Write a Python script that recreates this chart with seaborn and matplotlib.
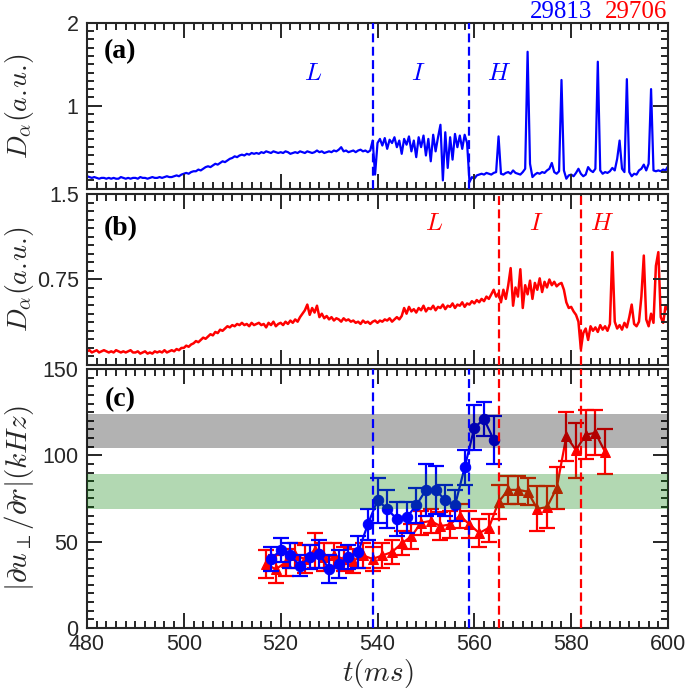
import numpy as np
import pandas as pd
import matplotlib
matplotlib.use("Agg")
import matplotlib.pyplot as plt
from matplotlib.ticker import AutoMinorLocator, FixedLocator
import seaborn as sns

# ---------------- data ----------------
# Panel (a): D_alpha, shot 29813, sampled every 0.5 ms from 480 to 600 ms
t_start, t_step = 480.0, 0.5
da_29813 = [
    0.15, 0.14, 0.13, 0.14, 0.13, 0.12, 0.13, 0.13, 0.12, 0.13,
    0.12, 0.13, 0.12, 0.12, 0.14, 0.13, 0.12, 0.13, 0.12, 0.13,
    0.13, 0.12, 0.14, 0.13, 0.13, 0.12, 0.13, 0.14, 0.13, 0.13,
    0.14, 0.13, 0.14, 0.15, 0.14, 0.14, 0.15, 0.16, 0.15, 0.17,
    0.18, 0.19, 0.18, 0.20, 0.21, 0.21, 0.23, 0.22, 0.24, 0.26,
    0.27, 0.26, 0.28, 0.30, 0.29, 0.31, 0.33, 0.32, 0.34, 0.36,
    0.37, 0.39, 0.38, 0.40, 0.41, 0.40, 0.42, 0.41, 0.43, 0.42,
    0.43, 0.42, 0.44, 0.43, 0.45, 0.44, 0.43, 0.45, 0.44, 0.43,
    0.44, 0.43, 0.45, 0.44, 0.42, 0.43, 0.44, 0.43, 0.45, 0.44,
    0.43, 0.45, 0.44, 0.43, 0.44, 0.46, 0.44, 0.45, 0.43, 0.44,
    0.45, 0.44, 0.46, 0.45, 0.47, 0.50, 0.45, 0.46, 0.44, 0.45,
    0.46, 0.44, 0.46, 0.47, 0.45, 0.46, 0.44, 0.46, 0.58, 0.17,
    0.55, 0.60, 0.52, 0.61, 0.48, 0.59, 0.55, 0.62, 0.50, 0.58,
    0.42, 0.60, 0.53, 0.63, 0.45, 0.58, 0.38, 0.62, 0.50, 0.64,
    0.40, 0.60, 0.33, 0.65, 0.45, 0.62, 0.77, 0.10, 0.68, 0.25,
    0.62, 0.35, 0.66, 0.50, 0.64, 0.48, 0.65, 0.55, 0.08, 0.14,
    0.12, 0.16, 0.17, 0.18, 0.17, 0.19, 0.18, 0.17, 0.19, 0.20,
    0.63, 0.18, 0.17, 0.19, 0.20, 0.18, 0.22, 0.19, 0.18, 0.17,
    0.20, 0.24, 1.65, 0.30, 0.14, 0.17, 0.19, 0.18, 0.20, 0.19,
    0.22, 0.24, 0.31, 0.20, 0.18, 0.21, 1.31, 0.22, 0.12, 0.16,
    0.17, 0.15, 0.19, 0.24, 0.18, 0.15, 0.17, 0.26, 0.22, 0.20,
    0.24, 1.53, 0.22, 0.18, 0.20, 0.19, 0.21, 0.25, 0.22, 0.36,
    0.58, 0.24, 0.20, 1.32, 0.20, 0.15, 0.18, 0.17, 0.22, 0.24,
    0.29, 0.22, 0.30, 1.20, 0.22, 0.21, 0.22, 0.21, 0.23, 0.22,
    0.27,
]

# Panel (b): D_alpha, shot 29706, same sampling
da_29706 = [
    0.12, 0.13, 0.11, 0.12, 0.13, 0.11, 0.12, 0.13, 0.12, 0.11,
    0.12, 0.11, 0.13, 0.12, 0.11, 0.12, 0.11, 0.12, 0.13, 0.11,
    0.11, 0.12, 0.10, 0.11, 0.12, 0.10, 0.11, 0.10, 0.12, 0.11,
    0.12, 0.11, 0.13, 0.11, 0.12, 0.13, 0.12, 0.14, 0.13, 0.15,
    0.15, 0.17, 0.16, 0.18, 0.19, 0.21, 0.20, 0.22, 0.24, 0.23,
    0.25, 0.27, 0.26, 0.29, 0.28, 0.31, 0.30, 0.32, 0.34, 0.33,
    0.35, 0.34, 0.36, 0.35, 0.37, 0.35, 0.36, 0.34, 0.37, 0.35,
    0.36, 0.37, 0.35, 0.36, 0.33, 0.37, 0.35, 0.38, 0.34, 0.36,
    0.37, 0.35, 0.38, 0.36, 0.39, 0.37, 0.40, 0.38, 0.42, 0.45,
    0.48, 0.53, 0.44, 0.50, 0.46, 0.52, 0.42, 0.45, 0.41, 0.43,
    0.40, 0.42, 0.39, 0.41, 0.40, 0.38, 0.41, 0.39, 0.40, 0.38,
    0.39, 0.37, 0.38, 0.36, 0.39, 0.37, 0.38, 0.36, 0.38, 0.39,
    0.37, 0.39, 0.38, 0.40, 0.39, 0.41, 0.38, 0.40, 0.42, 0.40,
    0.43, 0.50, 0.45, 0.51, 0.47, 0.49, 0.46, 0.50, 0.48, 0.52,
    0.47, 0.50, 0.49, 0.52, 0.48, 0.51, 0.50, 0.53, 0.49, 0.52,
    0.51, 0.54, 0.50, 0.53, 0.52, 0.55, 0.51, 0.54, 0.53, 0.56,
    0.54, 0.57, 0.55, 0.58, 0.56, 0.60, 0.58, 0.62, 0.66, 0.60,
    0.63, 0.55, 0.66, 0.58, 0.70, 0.85, 0.52, 0.68, 0.60, 0.84,
    0.50, 0.70, 0.62, 0.74, 0.58, 0.72, 0.66, 0.76, 0.64, 0.73,
    0.68, 0.75, 0.70, 0.73, 0.69, 0.71, 0.72, 0.66, 0.55, 0.50,
    0.51, 0.47, 0.44, 0.38, 0.14, 0.28, 0.32, 0.22, 0.34, 0.30,
    0.33, 0.29, 0.35, 0.31, 0.34, 0.30, 0.36, 0.99, 0.38, 0.32,
    0.35, 0.31, 0.37, 0.33, 0.42, 0.53, 0.36, 0.34, 0.38, 0.60,
    0.96, 0.40, 0.34, 0.45, 0.37, 0.87, 0.99, 0.42, 0.37, 0.52,
    0.48,
]

# Panel (c): shear rate with error bars
t_29813 = [518, 520, 522, 524, 526, 528, 530, 532, 534, 536, 538, 540,
           542, 544, 546, 548, 550, 552, 554, 556, 558, 560, 562, 564]
shear_29813 = [40, 45, 42, 36, 41, 43, 34, 37, 41, 44, 60, 74,
               69, 63, 64, 71, 80, 80, 74, 71, 93, 116, 121, 109]
err_29813 = [7, 7, 7, 6, 7, 8, 8, 8, 7, 9, 9, 13,
             11, 10, 9, 10, 15, 14, 9, 9, 10, 13, 10, 14]

t_29706 = [517, 519, 521, 523, 525, 527, 529, 531, 533, 535, 537, 539,
           541, 543, 545, 547, 549, 551, 553, 555, 557, 559, 561, 563,
           565, 567, 569, 571, 573, 575, 577, 579, 581, 583, 585, 587]
shear_29706 = [37, 34, 38, 42, 40, 45, 41, 42, 40, 39, 42, 40,
               42, 44, 49, 53, 61, 62, 59, 60, 65, 60, 55, 58,
               73, 80, 80, 79, 69, 70, 81, 111, 103, 112, 113, 102]
err_29706 = [8, 8, 8, 7, 8, 10, 8, 7, 7, 7, 7, 7,
             7, 7, 7, 7, 7, 7, 8, 8, 7, 8, 8, 8,
             10, 8, 8, 8, 13, 12, 12, 14, 16, 14, 13, 13]

# phase boundaries and bands
bounds_29813 = [539, 559]
bounds_29706 = [565, 582]
gray_band = [104, 124]
green_band = [69, 89]
shot_labels = ["29813", "29706"]

# ---------------- style ----------------
sns.set_theme(style="ticks")
AX = "#262626"
plt.rcParams.update({
    "font.family": ["Liberation Sans", "DejaVu Sans"],
    "mathtext.fontset": "cm",
    "axes.axisbelow": False,
    "axes.edgecolor": AX, "axes.linewidth": 1.5,
})
BLUE = "#0000ff"
RED = "#ff0000"

fig = plt.figure(figsize=(6.85, 6.97), dpi=100)
L, W = 0.127, 0.8482
axa = fig.add_axes([L, 0.7293, W, 0.2381])
axb = fig.add_axes([L, 0.4763, W, 0.2454])
axc = fig.add_axes([L, 0.0990, W, 0.3716])

df_a = pd.DataFrame({"t": t_start + t_step * np.arange(len(da_29813)), "D": da_29813})
df_b = pd.DataFrame({"t": t_start + t_step * np.arange(len(da_29706)), "D": da_29706})

sns.lineplot(data=df_a, x="t", y="D", ax=axa, color=BLUE, lw=1.6,
             estimator=None, sort=False)
sns.lineplot(data=df_b, x="t", y="D", ax=axb, color=RED, lw=1.8,
             estimator=None, sort=False)

# panel (c)
axc.errorbar(t_29706, shear_29706, yerr=err_29706, fmt="none", ecolor=RED,
             elinewidth=1.6, capsize=5.5, capthick=1.6, zorder=2)
sns.lineplot(x=t_29706, y=shear_29706, ax=axc, color=RED, lw=1.6,
             marker="^", markersize=7.5, markeredgecolor=RED,
             markerfacecolor=RED, estimator=None, sort=False, zorder=3)
axc.errorbar(t_29813, shear_29813, yerr=err_29813, fmt="none", ecolor=BLUE,
             elinewidth=1.6, capsize=5.5, capthick=1.6, zorder=4)
sns.lineplot(x=t_29813, y=shear_29813, ax=axc, color=BLUE, lw=1.6,
             marker="o", markersize=7.5, markeredgecolor=BLUE,
             markerfacecolor=BLUE, estimator=None, sort=False, zorder=5)
axc.axhspan(gray_band[0], gray_band[1], color="black", alpha=0.3, lw=0, zorder=6)
axc.axhspan(green_band[0], green_band[1], color="green", alpha=0.3, lw=0, zorder=6)

dash = (4, 2)
for x in bounds_29813:
    for ax in (axa, axc):
        ax.axvline(x, color=BLUE, lw=1.6, dashes=dash, zorder=7)
for x in bounds_29706:
    for ax in (axb, axc):
        ax.axvline(x, color=RED, lw=1.6, dashes=dash, zorder=7)

# axes limits
axa.set_ylim(0, 2)
axa.set_yticks([0, 1, 2])
axa.set_yticklabels(["", "1", "2"])
axb.set_ylim(0, 1.5)
axb.set_yticks([0, 0.75, 1.5])
axb.set_yticklabels(["", "0.75", "1.5"])
axc.set_ylim(0, 150)
axc.set_yticks([0, 50, 100, 150])

# ticks (MATLAB-like box with inward minor ticks)
for ax in (axa, axb, axc):
    ax.set_xlim(480, 600)
    ax.xaxis.set_major_locator(FixedLocator([480, 500, 520, 540, 560, 580, 600]))
    ax.xaxis.set_minor_locator(AutoMinorLocator(10))
    ax.yaxis.set_minor_locator(AutoMinorLocator(10))
    ax.tick_params(which="both", direction="in", top=True, right=True,
                   bottom=True, left=True, color=AX, labelcolor=AX,
                   labelsize=15.5)
    ax.tick_params(which="major", length=10.5, width=1.4)
    ax.tick_params(which="minor", length=5, width=1.4)
    ax.tick_params(axis="y", pad=6)
    ax.tick_params(axis="x", pad=4.5)
    for s in ax.spines.values():
        s.set_visible(True)
        s.set_color(AX)
        s.set_linewidth(1.5)
    ax.set_xlabel("")
    ax.set_ylabel("")
axa.tick_params(axis="x", labelbottom=False)
axb.tick_params(axis="x", labelbottom=False)

ylab_kw = dict(fontsize=20, color=AX)
axa.set_ylabel(r"$D_\alpha(a.\!u.\!)$", **ylab_kw)
axb.set_ylabel(r"$D_\alpha(a.\!u.\!)$", **ylab_kw)
axc.set_ylabel(r"$|\partial u_\perp/\partial r|(kHz)$", fontsize=21, color=AX)
for ax in (axa, axb, axc):
    ax.yaxis.set_label_coords(-0.088, 0.5)
axc.set_xlabel(r"$t(ms)$", fontsize=21, color=AX, labelpad=1)

# panel tags
tag_kw = dict(fontsize=20, fontweight="bold", family="Liberation Serif",
              ha="left", va="center", color="black")
axa.text(0.029, 0.825, "(a)", transform=axa.transAxes, **tag_kw)
axb.text(0.029, 0.80, "(b)", transform=axb.transAxes, **tag_kw)
axc.text(0.031, 0.88, "(c)", transform=axc.transAxes, **tag_kw)

# phase labels
ph_kw = dict(fontsize=18, ha="center", va="center")
for x, s in zip([526.7, 548.4, 565.1], ["L", "I", "H"]):
    axa.text(x, 1.39, f"${s}$", color=BLUE, **ph_kw)
for x, s in zip([551.6, 572.8, 586.3], ["L", "I", "H"]):
    axb.text(x, 1.245, f"${s}$", color=RED, **ph_kw)

# shot numbers
fig.text(592 / 685, 0.9737, shot_labels[0], color=BLUE, fontsize=18,
         family="Liberation Serif", ha="right", va="baseline")
fig.text(605 / 685, 0.9737, shot_labels[1], color=RED, fontsize=18,
         family="Liberation Serif", ha="left", va="baseline")

fig.savefig("out.png", dpi=100)
